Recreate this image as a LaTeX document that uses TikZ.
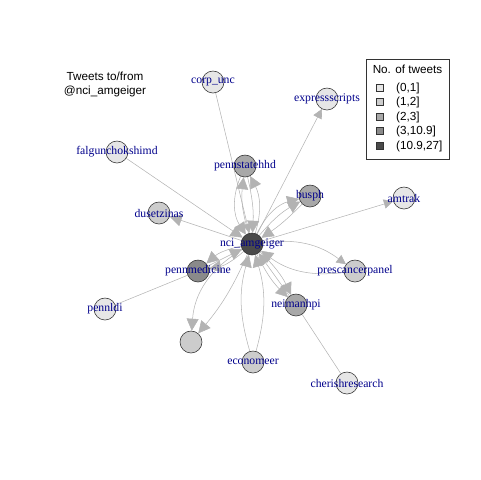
\documentclass[tikz,border=0pt]{standalone}
\usepackage{fontspec}
\setmainfont{Liberation Serif}
\setsansfont{Liberation Sans}
\usetikzlibrary{arrows.meta}
\definecolor{labblue}{HTML}{00008B}
\definecolor{edgegray}{HTML}{B3B3B3}
\definecolor{tA}{HTML}{E6E6E6}
\definecolor{tB}{HTML}{CCCCCC}
\definecolor{tC}{HTML}{A8A8A8}
\definecolor{tD}{HTML}{8A8A8A}
\definecolor{tE}{HTML}{4A4A4A}
\pgfdeclarelayer{edges}
\pgfsetlayers{edges,main}

\begin{document}
\begin{tikzpicture}[x=0.3mm, y=-0.3mm,
    vtx/.style={circle, draw=black!80, line width=0.5pt, minimum size=6.6mm, inner sep=0pt},
    lab/.style={font=\fontsize{10}{12}\selectfont, text=labblue, inner sep=0pt},
    edge/.style={draw=edgegray, line width=0.45pt},
    arr/.style={edge, -{Triangle[length=3.6mm, width=3.6mm]}},
    sarr/.style={edge, -{Triangle[length=2.8mm, width=2.8mm]}},
    title/.style={font=\sffamily\fontsize{10}{12}\selectfont, align=center},
    legsq/.style={draw=black!80, line width=0.4pt, minimum size=2.1mm, inner sep=0pt},
    legtxt/.style={font=\sffamily\fontsize{10}{12}\selectfont, anchor=west, inner sep=0pt}
]
\useasboundingbox (0,0) rectangle (480,480);

% --- vertices ---
\node[vtx, fill=tE, label={[lab]center:nci\_amgeiger}] (hub) at (252,244) {};
\node[vtx, fill=tA, label={[lab]center:corp\_unc}] (corp) at (213,82) {};
\node[vtx, fill=tA, label={[lab]center:expressscripts}] (expr) at (327,99) {};
\node[vtx, fill=tA, label={[lab]center:falgunchokshimd}] (falg) at (117,152) {};
\node[vtx, fill=tC, label={[lab]center:pennstatehhd}] (pst) at (245,166) {};
\node[vtx, fill=tC, label={[lab]center:busph}] (busph) at (310,196) {};
\node[vtx, fill=tA, label={[lab]center:amtrak}] (amtrak) at (404,198) {};
\node[vtx, fill=tB, label={[lab]center:dusetzinas}] (duse) at (159,213) {};
\node[vtx, fill=tD, label={[lab]center:pennmedicine}] (pmed) at (198,271) {};
\node[vtx, fill=tB, label={[lab]center:prescancerpanel}] (panel) at (355,271) {};
\node[vtx, fill=tC, label={[lab]center:neimanhpi}] (neim) at (296,305) {};
\node[vtx, fill=tA, label={[lab]center:pennldi}] (pldi) at (105,309) {};
\node[vtx, fill=tB] (blank) at (191,342) {};
\node[vtx, fill=tB, label={[lab]center:economeer}] (econ) at (253,362) {};
\node[vtx, fill=tA, label={[lab]center:cherishresearch}] (cher) at (347,383) {};

% --- edges ---
\begin{pgfonlayer}{edges}
\draw[sarr] (corp) -- (hub);
\draw[arr] (falg) -- (hub);
\draw[arr] (hub) -- (duse);
\draw[sarr] (hub) -- (expr);
\draw[sarr] (hub) -- (amtrak);
\draw[arr] (hub) to[bend left=12] (pst);
\draw[arr] (hub) to[bend right=22] (pst);
\draw[arr] (pst) to[bend left=8] (hub);
\draw[arr] (pst) to[bend right=28] (hub);
\draw[arr] (hub) to[bend left=25] (busph);
\draw[arr] (hub) to[bend left=10] (busph);
\draw[arr] (busph) to[bend left=6] (hub);
\draw[arr] (pmed) -- (hub);
\draw[arr] (hub) to[bend left=15] (pmed);
\draw[arr] (hub) to[bend right=15] (pmed);
\draw[sarr] (hub) to[bend left=22] (panel);
\draw[arr] (panel) to[bend left=22] (hub);
\draw[arr] (neim) -- (hub);
\draw[arr] (hub) to[bend left=10] (neim);
\draw[arr] (hub) to[bend right=10] (neim);
\draw[arr] (hub) to[bend right=28] (blank);
\draw[arr] (hub) to[bend left=8] (blank);
\draw[arr] (econ) to[bend left=16] (hub);
\draw[arr] (econ) to[bend right=16] (hub);
\draw[edge] (pldi) -- (pmed);
\draw[edge] (neim) -- (cher);
\end{pgfonlayer}

% --- title ---
\node[title] (ttl) at (105,84) {Tweets to/from\\@nci\_amgeiger};

% --- legend ---
\draw[black!80, line width=0.5pt] (366,59) rectangle (449,159);
\node[font=\sffamily\fontsize{10}{12}\selectfont] (legttl) at (407.5,69) {No. of tweets};
\node[legsq, fill=tA] (sqA) at (380,88) {};
\node[legsq, fill=tB] (sqB) at (380,102) {};
\node[legsq, fill=tC] (sqC) at (380,117) {};
\node[legsq, fill=tD] (sqD) at (380,131) {};
\node[legsq, fill=tE] (sqE) at (380,146) {};
\node[legtxt] at (396,88) {(0,1]};
\node[legtxt] at (396,102) {(1,2]};
\node[legtxt] at (396,117) {(2,3]};
\node[legtxt] at (396,131) {(3,10.9]};
\node[legtxt] at (396,146) {(10.9,27]};

\end{tikzpicture}
\end{document}
